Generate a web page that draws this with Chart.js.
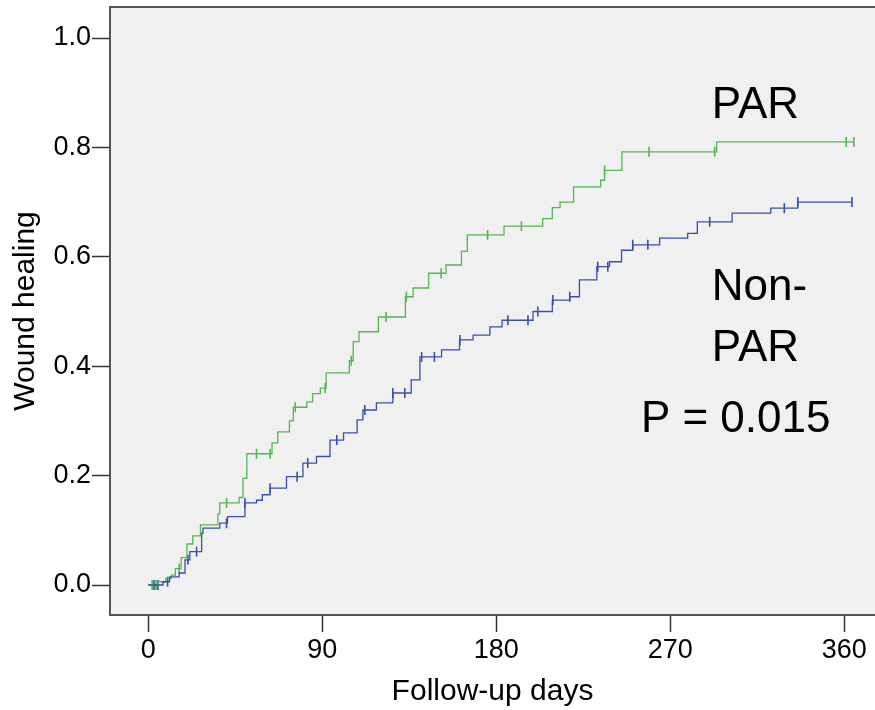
<!DOCTYPE html>
<html>
<head>
<meta charset="utf-8">
<title>Wound healing</title>
<script src="https://cdn.jsdelivr.net/npm/chart.js@4/dist/chart.umd.min.js"></script>
<style>
  html, body { margin: 0; padding: 0; background: #fff; }
</style>
</head>
<body>
<canvas id="km" width="875" height="710"></canvas>
<script>
// Cumulative wound healing (Kaplan-Meier style)

// PAR group: event day -> cumulative healing after the step
const parDays   = [0, 5, 9, 12, 14, 17, 20, 23, 27, 36, 37, 47, 49, 51, 64, 67, 73, 75, 82, 85, 89, 92,
                   104, 106, 109, 119, 133, 137, 145, 154, 162, 165, 184, 204, 209, 213, 220, 234, 236, 245, 294, 365];
const parValues = [0, 0.006, 0.012, 0.018, 0.03, 0.05, 0.075, 0.09, 0.11, 0.13, 0.15, 0.16, 0.195, 0.24, 0.26, 0.28, 0.30, 0.325, 0.335, 0.35, 0.36, 0.388,
                   0.41, 0.445, 0.463, 0.49, 0.527, 0.543, 0.57, 0.585, 0.61, 0.64, 0.656, 0.67, 0.69, 0.70, 0.728, 0.74, 0.758, 0.792, 0.81, 0.81];
const parCensored = [2, 4, 16, 40.5, 56, 63, 76, 91.5, 105, 123, 133.5, 151.5, 175.5, 193, 236, 259, 293, 361, 365];

// Non-PAR group
const nonParDays   = [0, 7.6, 11, 16, 19, 21.5, 27.6, 28.3, 37, 41, 50, 56, 59, 63, 71.5, 80, 87, 94, 101, 108, 111, 118, 126.5,
                      136, 140.5, 151.7, 161, 168, 176.7, 183, 199, 209, 218, 223, 232, 238.6, 244.8, 250.6, 264.5, 279, 284, 302, 322, 336, 364];
const nonParValues = [0, 0.006, 0.015, 0.022, 0.046, 0.061, 0.095, 0.104, 0.113, 0.125, 0.15, 0.155, 0.165, 0.177, 0.198, 0.223, 0.235, 0.265, 0.278, 0.302, 0.32, 0.333, 0.351,
                      0.375, 0.417, 0.43, 0.448, 0.457, 0.472, 0.484, 0.50, 0.521, 0.527, 0.558, 0.582, 0.591, 0.612, 0.622, 0.634, 0.643, 0.664, 0.68, 0.689, 0.70, 0.70];
const nonParCensored = [3, 5, 10, 20.5, 25, 40.5, 50, 63, 77, 82.5, 97.5, 112, 126.5, 132.7, 141.4, 148, 161.2, 186, 196.4, 201.5,
                        209.3, 218, 232.5, 237.7, 250.6, 258.4, 290.4, 329, 336, 364];

const xTicks = [0, 90, 180, 270, 360];
const yTicks = [0, 0.2, 0.4, 0.6, 0.8, 1.0];

const PAR_COLOR = '#52b852';
const NONPAR_COLOR = '#3b4fa6';
const FONT = 'Arial, "Liberation Sans", sans-serif';

// level of a step curve at a given day (for placing censor ticks on the line)
function levelAt(days, values, d) {
  let v = values[0];
  for (let i = 0; i < days.length; i++) {
    if (days[i] <= d) v = values[i];
  }
  return v;
}

const toPoints = (days, values) => days.map((d, i) => ({ x: d, y: values[i] }));
const censorPoints = (cens, days, values) => cens.map(d => ({ x: d, y: levelAt(days, values, d) }));

// text labels placed in data units
const labels = [
  { text: 'PAR',       x: 291.5, y: 0.854, size: 44 },
  { text: 'Non-',      x: 291.5, y: 0.521, size: 44 },
  { text: 'PAR',       x: 291.5, y: 0.41,  size: 44 },
  { text: 'P = 0.015', x: 254.8, y: 0.28,  size: 44 }
];

const framePlugin = {
  id: 'frame',
  beforeDraw(chart) {
    const { ctx, chartArea: a } = chart;
    ctx.save();
    ctx.fillStyle = '#f0f0f0';
    ctx.fillRect(a.left, a.top, a.right - a.left, a.bottom - a.top);
    ctx.restore();
  },
  afterDraw(chart) {
    const { ctx, chartArea: a } = chart;
    ctx.save();
    ctx.strokeStyle = '#555';
    ctx.lineWidth = 2;
    ctx.beginPath();
    ctx.moveTo(a.left, a.top);
    ctx.lineTo(a.right, a.top);
    ctx.stroke();
    ctx.restore();
  }
};

const labelPlugin = {
  id: 'groupLabels',
  afterDatasetsDraw(chart) {
    const { ctx, scales } = chart;
    ctx.save();
    ctx.fillStyle = '#000';
    ctx.textAlign = 'left';
    ctx.textBaseline = 'alphabetic';
    labels.forEach(l => {
      ctx.font = l.size + 'px ' + FONT;
      ctx.fillText(l.text, scales.x.getPixelForValue(l.x), scales.y.getPixelForValue(l.y));
    });
    ctx.restore();
  }
};

new Chart(document.getElementById('km'), {
  type: 'scatter',
  data: {
    datasets: [
      {
        label: 'Non-PAR',
        data: toPoints(nonParDays, nonParValues),
        showLine: true,
        stepped: true,
        borderColor: NONPAR_COLOR,
        borderWidth: 1.3,
        pointRadius: 0
      },
      {
        label: 'PAR',
        data: toPoints(parDays, parValues),
        showLine: true,
        stepped: true,
        borderColor: PAR_COLOR,
        borderWidth: 1.3,
        pointRadius: 0
      },
      {
        label: 'Non-PAR censored',
        data: censorPoints(nonParCensored, nonParDays, nonParValues),
        showLine: false,
        pointStyle: 'line',
        rotation: 90,
        pointRadius: 5,
        borderColor: NONPAR_COLOR,
        borderWidth: 1.6
      },
      {
        label: 'PAR censored',
        data: censorPoints(parCensored, parDays, parValues),
        showLine: false,
        pointStyle: 'line',
        rotation: 90,
        pointRadius: 5,
        borderColor: PAR_COLOR,
        borderWidth: 1.6
      }
    ]
  },
  options: {
    responsive: false,
    animation: false,
    layout: { autoPadding: false, padding: { top: 7, right: 0, bottom: 0, left: 0 } },
    plugins: {
      legend: { display: false },
      tooltip: { enabled: false }
    },
    scales: {
      x: {
        type: 'linear',
        min: -19.8,
        max: 375.9,
        afterBuildTicks: s => { s.ticks = xTicks.map(v => ({ value: v })); },
        afterFit: s => { s.height = 95; s.paddingLeft = 0; s.paddingRight = 0; },
        grid: { drawOnChartArea: false, tickLength: 17, tickColor: '#333', tickWidth: 1.5 },
        border: { display: true, color: '#555', width: 2 },
        ticks: {
          autoSkip: false, maxRotation: 0, padding: 2, color: '#000',
          font: { family: FONT, size: 27 },
          callback: v => String(v)
        },
        title: {
          display: true, text: 'Follow-up days', color: '#000',
          font: { family: FONT, size: 30 },
          padding: { top: 0, bottom: 0 }
        }
      },
      y: {
        type: 'linear',
        min: -0.0548,
        max: 1.0567,
        afterBuildTicks: s => { s.ticks = yTicks.map(v => ({ value: v })); },
        afterFit: s => { s.width = 110; s.paddingTop = 0; s.paddingBottom = 0; },
        grid: { drawOnChartArea: false, tickLength: 18, tickColor: '#333', tickWidth: 1.5 },
        border: { display: true, color: '#555', width: 2 },
        ticks: {
          autoSkip: false, padding: 1, color: '#000',
          font: { family: FONT, size: 27 },
          callback: v => v.toFixed(1)
        },
        title: {
          display: true, text: 'Wound healing', color: '#000',
          font: { family: FONT, size: 30 },
          padding: { top: 8, bottom: 0 }
        }
      }
    }
  },
  plugins: [framePlugin, labelPlugin]
});
</script>
</body>
</html>
